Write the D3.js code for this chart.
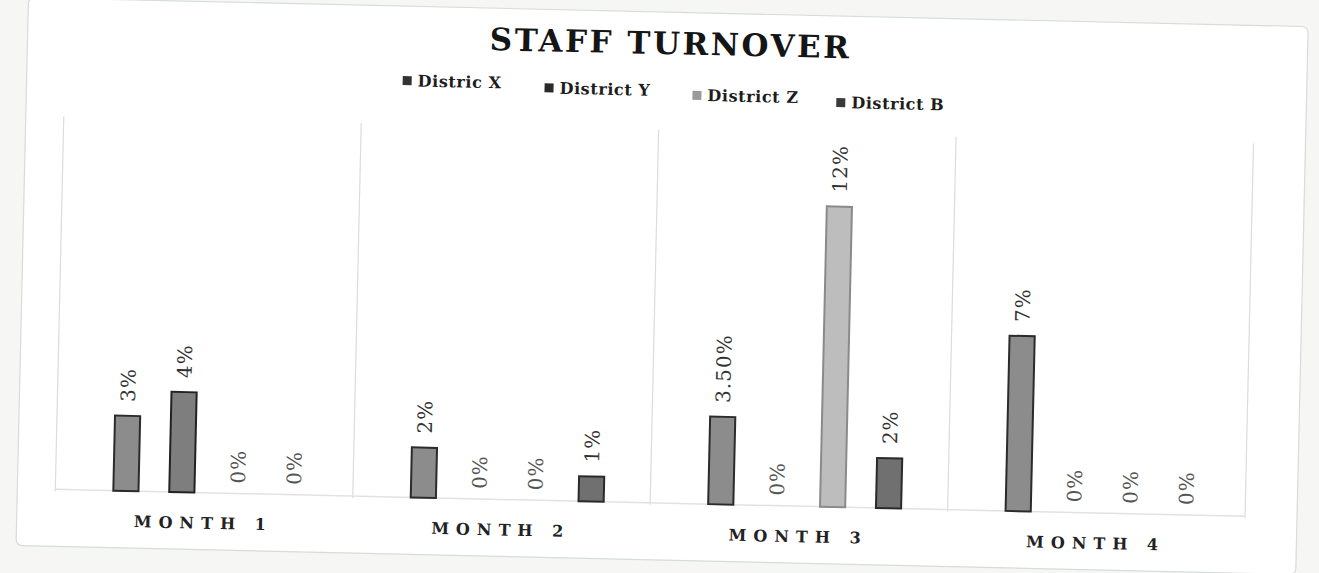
<!DOCTYPE html>
<html>
<head>
<meta charset="utf-8">
<script src="https://cdn.jsdelivr.net/npm/d3@7"></script>
<style>
  body { margin: 0; background: #f6f6f5; }
  #chart { width: 1319px; height: 573px; }
  text { font-family: "DejaVu Serif", "Liberation Serif", serif; }
</style>
</head>
<body>
<div id="chart"></div>
<script>
const months = ['MONTH 1', 'MONTH 2', 'MONTH 3', 'MONTH 4'];
const districts = ['Distric X', 'District Y', 'District Z', 'District B'];
const districtX = [3, 2, 3.5, 7];
const districtY = [4, 0, 0, 0];
const districtZ = [0, 0, 12, 0];
const districtB = [0, 1, 2, 0];
const valueLabels = [
    ['3%', '4%', '0%', '0%'],
    ['2%', '0%', '0%', '1%'],
    ['3.50%', '0%', '12%', '2%'],
    ['7%', '0%', '0%', '0%']
];

const fills = ['#8c8c8c', '#7e7e7e', '#bdbdbd', '#707070'];
const strokes = ['#2b2b2b', '#222', '#8a8a8a', '#2a2a2a'];
const legendColors = ['#333', '#2a2a2a', '#9a9a9a', '#3a3a3a'];

const series = [districtX, districtY, districtZ, districtB];
const data = months.map((m, i) => ({
    month: m,
    values: series.map((s, j) => ({ key: districts[j], value: s[i], label: valueLabels[i][j], idx: j }))
}));

const svg = d3.select('#chart').append('svg').attr('width', 1319).attr('height', 573);

const root = svg.append('g').attr('transform', 'rotate(1.3, 660, 290)');

// outer chart border
root.append('rect')
    .attr('x', 22).attr('y', 12).attr('width', 1280).attr('height', 548)
    .attr('rx', 6)
    .attr('fill', '#ffffff')
    .attr('stroke', '#d6dcda').attr('stroke-width', 1.2);

root.append('text')
    .attr('x', 665).attr('y', 54)
    .attr('text-anchor', 'middle')
    .attr('font-size', 31).attr('font-weight', 'bold')
    .attr('letter-spacing', 2.5)
    .attr('fill', '#151515')
    .text('STAFF TURNOVER');

const legendX = [398, 540, 688, 832];
const legend = root.append('g').selectAll('g').data(districts).join('g')
    .attr('transform', (d, i) => `translate(${legendX[i]},${92 + i * 4})`);
legend.append('rect')
    .attr('x', 0).attr('y', -10).attr('width', 9).attr('height', 9)
    .attr('fill', (d, i) => legendColors[i]);
legend.append('text')
    .attr('x', 15).attr('y', 0)
    .attr('font-size', 16).attr('font-weight', 'bold')
    .attr('letter-spacing', 0.6)
    .attr('fill', '#1d1d1d')
    .text(d => d);

const margin = { left: 60, right: 1250, top: 140, bottom: 503 };

const x0 = d3.scaleBand().domain(months).range([margin.left, margin.right]);
const x1 = d3.scaleBand().domain(districts).range([58, 251]).paddingInner(0.55).paddingOuter(0);
const y = d3.scaleLinear().domain([0, 14.5]).range([margin.bottom, margin.top]);

// category separators
root.append('g').selectAll('line')
    .data(months.concat(['end']))
    .join('line')
    .attr('x1', (d, i) => i < months.length ? x0(d) : margin.right)
    .attr('x2', (d, i) => i < months.length ? x0(d) : margin.right)
    .attr('y1', margin.top - 10).attr('y2', margin.bottom + 2)
    .attr('stroke', '#dcdcdc').attr('stroke-width', 1.2);

// baseline
root.append('line')
    .attr('x1', margin.left).attr('x2', margin.right)
    .attr('y1', y(0)).attr('y2', y(0))
    .attr('stroke', '#e2e2e2').attr('stroke-width', 1.5);

const groups = root.append('g').selectAll('g').data(data).join('g')
    .attr('transform', d => `translate(${x0(d.month)},0)`);

groups.selectAll('rect').data(d => d.values.filter(v => v.value > 0)).join('rect')
    .attr('x', d => x1(d.key))
    .attr('width', x1.bandwidth())
    .attr('y', d => y(d.value))
    .attr('height', d => y(0) - y(d.value))
    .attr('fill', d => fills[d.idx])
    .attr('stroke', d => strokes[d.idx])
    .attr('stroke-width', 2);

groups.selectAll('text.val').data(d => d.values).join('text')
    .attr('class', 'val')
    .attr('transform', d => `translate(${x1(d.key) + x1.bandwidth() / 2 + 7},${y(d.value) - (d.value > 0 ? 14 : 10)}) rotate(-90)`)
    .attr('font-size', 20)
    .attr('letter-spacing', 1)
    .attr('fill', d => d.value > 0 ? '#333' : '#555')
    .text(d => d.label);

groups.append('text')
    .attr('x', x0.bandwidth() / 2)
    .attr('y', y(0) + 36)
    .attr('text-anchor', 'middle')
    .attr('font-size', 16)
    .attr('font-weight', 'bold')
    .attr('letter-spacing', 7)
    .attr('fill', '#222')
    .text(d => d.month);
</script>
</body>
</html>
